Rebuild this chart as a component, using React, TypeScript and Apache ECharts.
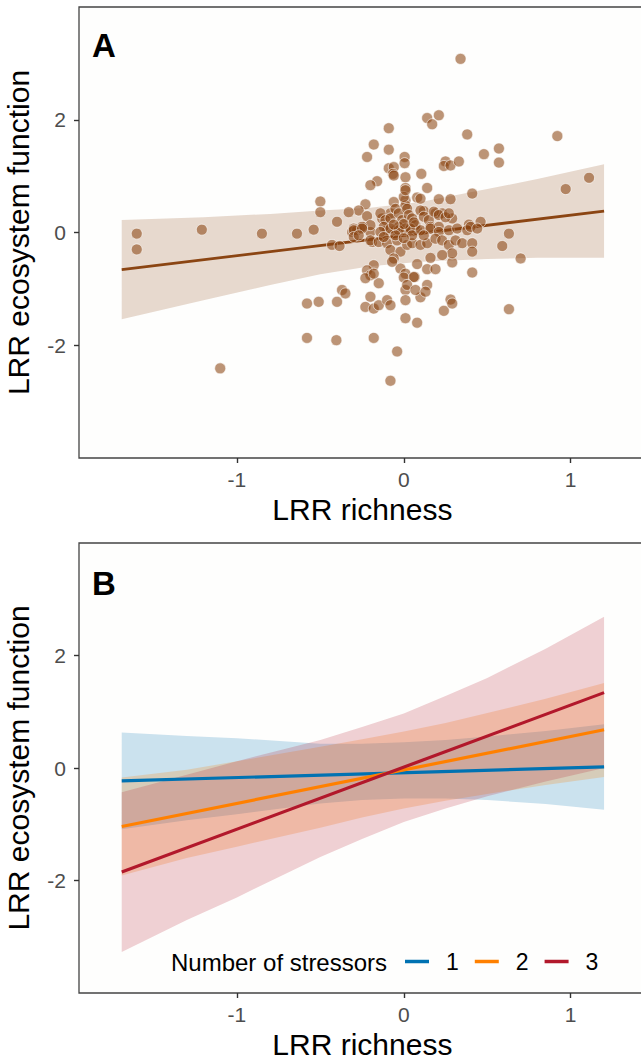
import { useEffect, useRef } from "react";
import * as echarts from "echarts";

// ---------- Panel A data ----------
const richnessA: number[] = [
  -1.6, -1.6, -1.21, -0.85, -0.64, -0.54, -0.5, -0.5, -1.1, -0.58, -0.51, -0.58,
  0.34, 0.14, 0.17, 0.21, -0.09, 0.38, 0.92, -0.18, -0.09, 0.57, -0.22, 0.48, 0.57, 0.005, 0.005, 0.25, 0.24, 0.28, 0.33,
  -0.09, -0.06, -0.065, 0.01, 0.105, -0.16, -0.2, 0.01, 0.14, 0.41, 0.97, 1.11,
  -0.23, -0.27, -0.33, -0.4, -0.06, 0.01, 0.08, 0.21, 0.28, 0.12, 0.19, 0.23, 0.29, 0.46, 0.63, 0.59, 0.7,
  -0.43, -0.385, -0.31, -0.28, -0.244, -0.2, -0.19, -0.13, -0.08, -0.05, 0.01, -0.1, -0.05, 0, 0.04, 0.08,
  -0.06, 0, -0.22, -0.14, -0.11, -0.08, -0.12, -0.2, -0.25, -0.3, -0.03, -0.01, -0.03, 0.01,
  0.1, 0.01, 0.02, 0.03, 0.05, 0.1, 0.12, 0.15, 0.18, 0.21, 0.25, 0.27, 0.16, 0.21, 0.07, 0.39,
  -0.3, -0.25, -0.14, -0.08, -0.03, -0.3, -0.27, -0.2, -0.15, -0.1, -0.04, -0.08, -0.02, 0.02, -0.06, -0.02, 0.01,
  -0.18, -0.22, -0.2, -0.23, -0.15, -0.37, -0.35, -0.4, -0.2, -0.23, -0.18, -0.15, -0.1, -0.08, 0.01, 0.01, 0.01, -0.18,
  -0.404, -0.04, -0.08, 0.08, 0.065, 0, 0.1, 0.14, 0.24, 0.28, 0.29, 0.41, 0.63, 0.08, 0.14, 0.19, 0.29, -0.07, -0.18,
  0.04, 0.1, 0.16, 0.21, 0.27, 0.32, 0.38, 0.4, 0.44, 0.05, 0.1, 0.14, 0.19, 0.23, 0.27, 0.31, 0.35, 0.41, 0.41, 0.29,
  0.23, 0.16, 0.06, 0.02, 0.07, 0.13,
  -0.05, 0.05, 0, -0.12, 0.12, 0, -0.06, 0.06,
];
const functionA: number[] = [
  -0.02, -0.3, 0.05, -0.02, -0.02, 0.05, 0.55, 0.36, -2.41, -1.26, -1.23, -1.87,
  3.08, 2.03, 1.92, 2.08, 1.85, 1.74, 1.71, 1.56, 1.47, 1.49, 1.34, 1.39, 1.24, 1.34, 1.23, 1.26, 1.18, 1.19, 1.26,
  1.14, 1.16, 1.04, 0.98, 1.04, 0.91, 0.84, 0.79, 0.79, 0.69, 0.77, 0.97,
  0.5, 0.39, 0.36, 0.19, 0.54, 0.57, 0.62, 0.59, 0.59, 0.38, 0.34, 0.34, 0.25, 0.19, -0.02, -0.24, -0.46,
  -0.22, -0.24, 0.01, 0.04, 0.1, 0.01, -0.17, 0.25, 0.34, 0.42, 0.48, 0.04, 0.04, 0.04, 0.04, 0.04,
  1.01, 0.63, 0.29, 0.34, 0.22, 0.25, 0.1, 0.13, 0.1, 0.07, 0.34, 0.22, 0.1, 0.07,
  0.6, 0.75, 0.42, 0.31, 0.25, 0.39, 0.28, 0.22, 0.37, 0.31, 0.27, 0.34, 0.1, 0.1, 0.13, 0.14,
  0.04, 0.07, 0.01, 0.07, 0.04, -0.08, -0.05, -0.14, -0.17, -0.19, -0.14, -0.31, -0.34, -0.22, -0.46, -0.64, -0.73,
  -0.58, -0.67, -0.76, -0.81, -0.9, -1.02, -1.08, -1.23, -1.14, -1.32, -1.35, -1.29, -1.2, -1.29, -1.02, -1.2, -1.52, -1.87,
  -1.91, -2.11, -2.63, -1.6, -0.79, -0.8, -1.15, -0.93, -1.39, -1.19, -1.26, -0.71, -1.36, -0.56, -0.65, -0.65, -0.53, -0.52, -0.73,
  0.07, 0.04, 0.07, 0.01, 0.04, 0.07, 0.04, 0.1, 0.07, -0.19, -0.22, -0.19, -0.11, -0.14, -0.22, -0.14, -0.19, -0.19, -0.34, -0.37,
  -0.4, -0.45, -0.79, -0.93, -1.02, -1.05,
  -0.05, -0.05, -0.1, -0.08, -0.05, 0.15, 0.14, 0.18,
];
const fitAX = [-1.69, 1.2];
const fitAY = [-0.66, 0.38];
const bandAX = [-1.69, -1.2, -0.8, -0.5, -0.2, 0.1, 0.5, 0.8, 1.2];
const bandAHigh = [0.22, 0.27, 0.33, 0.39, 0.44, 0.54, 0.77, 0.95, 1.21];
const bandALow = [-1.54, -1.2, -0.93, -0.74, -0.6, -0.52, -0.47, -0.45, -0.45];

// ---------- Panel B data ----------
const stressorGroups = ["1", "2", "3"];
const fitBX = [-1.69, 1.2];
const fitBY1 = [-0.23, 0.02];
const fitBY2 = [-1.04, 0.68];
const fitBY3 = [-1.85, 1.34];
const bandBX = [-1.69, -1.3, -1.0, -0.5, -0.25, 0, 0.25, 0.5, 0.85, 1.2];
const bandB1High = [0.63, 0.57, 0.53, 0.43, 0.43, 0.46, 0.5, 0.56, 0.66, 0.78];
const bandB1Low = [-1.09, -0.93, -0.82, -0.63, -0.57, -0.54, -0.54, -0.57, -0.64, -0.74];
const bandB2High = [-0.17, -0.03, 0.12, 0.38, 0.51, 0.65, 0.8, 0.98, 1.23, 1.51];
const bandB2Low = [-1.91, -1.6, -1.4, -1.06, -0.88, -0.72, -0.58, -0.46, -0.3, -0.16];
const bandB3High = [-0.43, -0.12, 0.12, 0.5, 0.73, 0.97, 1.28, 1.6, 2.12, 2.69];
const bandB3Low = [-3.27, -2.7, -2.3, -1.58, -1.26, -0.96, -0.72, -0.5, -0.24, 0.0];

// ---------- Axes ----------
const xTicks = [-1, 0, 1];
const yTicks = [-2, 0, 2];
const xMin = -1.946;
const xMax = 1.45;
const yMin = -4;
const yMax = 4;

const FONT = "'Liberation Sans', Arial, Helvetica, sans-serif";
const BROWN = "#8B4513";
const BLUE = "#0072B2";
const ORANGE = "#FF8000";
const RED = "#B2182B";

function bandSeries(
  name: string,
  xs: number[],
  lo: number[],
  hi: number[],
  fill: string,
  axisIndex: number
) {
  return {
    type: "custom",
    name,
    xAxisIndex: axisIndex,
    yAxisIndex: axisIndex,
    silent: true,
    z: 1,
    data: xs.map((x, i) => [x, lo[i], hi[i]]),
    encode: { x: 0, y: [1, 2] },
    renderItem: (params: any, api: any) => {
      if (params.dataIndex !== 0) return null;
      const top = xs.map((x, i) => api.coord([x, hi[i]]));
      const bot = xs.map((x, i) => api.coord([x, lo[i]])).reverse();
      return {
        type: "polygon",
        shape: { points: top.concat(bot) },
        style: { fill },
      };
    },
  };
}

function lineSeries(name: string, xs: number[], ys: number[], color: string, width: number, axisIndex: number, z: number) {
  return {
    type: "line",
    name,
    xAxisIndex: axisIndex,
    yAxisIndex: axisIndex,
    data: xs.map((x, i) => [x, ys[i]]),
    showSymbol: false,
    symbol: "none",
    silent: true,
    z,
    itemStyle: { color },
    lineStyle: { color, width },
  };
}

function makeXAxis(gridIndex: number) {
  return {
    type: "value",
    gridIndex,
    min: xMin,
    max: xMax,
    name: "LRR richness",
    nameLocation: "middle",
    nameGap: 36,
    nameTextStyle: { fontSize: 30, color: "#000", fontFamily: FONT },
    axisLine: { show: false, onZero: false },
    splitLine: { show: false },
    axisTick: { show: true, customValues: xTicks, length: 5, lineStyle: { color: "#333", width: 1.4 } },
    axisLabel: { customValues: xTicks, margin: 11, fontSize: 21, color: "#4d4d4d", fontFamily: FONT },
  };
}

function makeYAxis(gridIndex: number) {
  return {
    type: "value",
    gridIndex,
    min: yMin,
    max: yMax,
    name: "LRR ecosystem function",
    nameLocation: "middle",
    nameRotate: 90,
    nameGap: 46,
    nameTextStyle: { fontSize: 30, color: "#000", fontFamily: FONT },
    axisLine: { show: false, onZero: false },
    splitLine: { show: false },
    axisTick: { show: true, customValues: yTicks, length: 5, lineStyle: { color: "#333", width: 1.4 } },
    axisLabel: { customValues: yTicks, margin: 13, fontSize: 21, color: "#4d4d4d", fontFamily: FONT },
  };
}

export default function App() {
  const ref = useRef<HTMLDivElement>(null);

  useEffect(() => {
    if (!ref.current) return;
    const chart = echarts.init(ref.current, undefined, { renderer: "svg" });
    const gridW = 566.8;
    const gridCommon = {
      left: 79,
      width: gridW,
      show: true,
      borderColor: "#444",
      borderWidth: 1.3,
      backgroundColor: "#fefefd",
      containLabel: false,
      outerBoundsMode: "none",
    };
    const option: any = {
      animation: false,
      backgroundColor: "#ffffff",
      textStyle: { fontFamily: FONT },
      grid: [
        { ...gridCommon, top: 7, height: 451 },
        { ...gridCommon, top: 543, height: 450 },
      ],
      xAxis: [makeXAxis(0), makeXAxis(1)],
      yAxis: [makeYAxis(0), makeYAxis(1)],
      legend: {
        data: stressorGroups,
        left: 405,
        top: 950,
        padding: 0,
        icon: "rect",
        itemWidth: 24,
        itemHeight: 3.5,
        itemGap: 16,
        selectedMode: false,
        textStyle: { fontSize: 23, color: "#000", fontFamily: FONT, padding: [0, 0, 0, 12] },
      },
      graphic: [
        { type: "text", x: 92, y: 45, style: { text: "A", font: `bold 33px ${FONT}`, fill: "#000", verticalAlign: "middle" } },
        { type: "text", x: 92, y: 583, style: { text: "B", font: `bold 33px ${FONT}`, fill: "#000", verticalAlign: "middle" } },
        { type: "text", x: 171, y: 962, style: { text: "Number of stressors", font: `24px ${FONT}`, fill: "#000", verticalAlign: "middle" } },
      ],
      series: [
        bandSeries("bandA", bandAX, bandALow, bandAHigh, "rgba(139,69,19,0.2)", 0),
        lineSeries("fitA", fitAX, fitAY, BROWN, 2.8, 0, 3),
        {
          type: "scatter",
          name: "points",
          xAxisIndex: 0,
          yAxisIndex: 0,
          z: 4,
          silent: true,
          symbolSize: 11,
          data: richnessA.map((x, i) => [x, functionA[i]]),
          itemStyle: { color: "rgba(139,69,19,0.72)", borderColor: "rgba(255,255,255,0.85)", borderWidth: 0.9 },
        },
        bandSeries("band1", bandBX, bandB1Low, bandB1High, "rgba(0,114,178,0.2)", 1),
        bandSeries("band2", bandBX, bandB2Low, bandB2High, "rgba(255,128,0,0.22)", 1),
        bandSeries("band3", bandBX, bandB3Low, bandB3High, "rgba(178,24,43,0.2)", 1),
        lineSeries(stressorGroups[0], fitBX, fitBY1, BLUE, 3.2, 1, 3),
        lineSeries(stressorGroups[1], fitBX, fitBY2, ORANGE, 3.2, 1, 4),
        lineSeries(stressorGroups[2], fitBX, fitBY3, RED, 3.2, 1, 5),
      ],
    };
    chart.setOption(option);
    return () => chart.dispose();
  }, []);

  return (
    <div style={{ position: "absolute", left: 0, top: 0, width: 641, height: 1063, overflow: "hidden", background: "#fff" }}>
      <div ref={ref} style={{ width: 680, height: 1063 }} />
    </div>
  );
}
